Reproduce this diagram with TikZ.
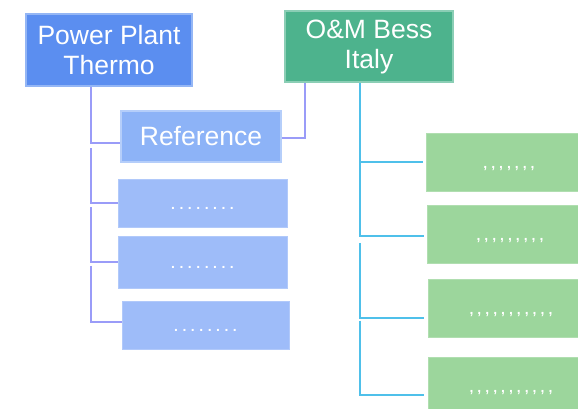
\documentclass[tikz,border=0pt]{standalone}
\usepackage{fontspec}
\setmainfont{Liberation Sans}
\usetikzlibrary{positioning}

\definecolor{thermoblue}{HTML}{5B8EF0}
\definecolor{refblue}{HTML}{8DB3F7}
\definecolor{itemblue}{HTML}{9EBCF9}
\definecolor{bessgreen}{HTML}{4DB38D}
\definecolor{itemgreen}{HTML}{9CD69C}
\definecolor{linkblue}{HTML}{9A9CF8}
\definecolor{linkcyan}{HTML}{4FC0EA}

\newcommand{\dotrow}[1]{\foreach \i in {2,...,#1}{.\hspace{4.5pt}}.}
\newcommand{\commarow}[1]{\foreach \i in {2,...,#1}{,\hspace{4pt}},}

\tikzset{
  headbox/.style={draw=#1!65!white, fill=#1, line width=2.5pt, text=white,
    align=center, inner sep=0pt, font=\fontsize{26.5}{30}\selectfont},
  itembox/.style={draw=#1!80!white, fill=#1, line width=0.8pt, text=white,
    inner sep=0pt, text height=12pt, text depth=0pt, font=\fontsize{14}{16}\selectfont\bfseries},
  bline/.style={draw=linkblue, line width=2pt},
  cline/.style={draw=linkcyan, line width=2pt},
}

\begin{document}
\begin{tikzpicture}[x=1pt, y=-1pt]
\useasboundingbox (0,0) rectangle (578,409);
\clip (0,0) rectangle (578,409);

% top level
\node (thermo) [headbox=thermoblue, minimum width=166pt, minimum height=72pt] at (109,50) {Power Plant\\Thermo};
\node (bess) [headbox=bessgreen, minimum width=168pt, minimum height=71pt] at (369,46.5) {O\&M Bess\\Italy};
\node (ref) [headbox=refblue, minimum width=160pt, minimum height=51pt] at (201,136.5) {Reference};

% blue items
\node (b1) [itembox=itemblue, minimum width=169pt, minimum height=48pt] at (202.5,203) {\dotrow{8}};
\node (b2) [itembox=itemblue, minimum width=169pt, minimum height=52pt, below=9pt of b1] {\dotrow{8}};
\node (b3) [itembox=itemblue, minimum width=167pt, minimum height=48pt, below=12pt of b2, xshift=3pt] {\dotrow{8}};

% green items
\node (g1) [itembox=itemgreen, minimum width=166pt, minimum height=58pt] at (509,162) {\commarow{7}};
\node (g2) [itembox=itemgreen, minimum width=166pt, minimum height=58pt, below=14pt of g1, xshift=1pt] {\commarow{9}};
\node (g3) [itembox=itemgreen, minimum width=166pt, minimum height=58pt, below=15pt of g2, xshift=1pt] {\commarow{11}};
\node (g4) [itembox=itemgreen, minimum width=166pt, minimum height=58pt, below=19pt of g3] {\commarow{11}};

% left connectors
\coordinate (lx) at (91,0);
\draw[bline] (thermo.south -| lx) |- ([yshift=-6.5pt]ref.west);
\draw[bline] ([yshift=-11.5pt]ref.west -| lx) |- (b1.west);
\draw[bline] ([yshift=-4pt]b1.west -| lx) |- ([yshift=1pt]b2.west);
\draw[bline] ([yshift=-3pt]b2.west -| lx) |- ([yshift=4pt]b3.west);

% reference to bess
\draw[bline] ([yshift=-1.5pt]ref.east) -| ([xshift=21pt]bess.south west);

% right connectors
\coordinate (rx) at (360,0);
\draw[cline, shorten >=3pt] (bess.south -| rx) |- (g1.west);
\draw[cline, shorten >=3pt] ([yshift=-1pt]g1.west -| rx) |- ([yshift=-1pt]g2.west);
\draw[cline, shorten >=4pt] ([yshift=-8pt]g2.west -| rx) |- ([yshift=-9pt]g3.west);
\draw[cline, shorten >=4pt] ([yshift=-12pt]g3.west -| rx) |- ([yshift=-9pt]g4.west);
\end{tikzpicture}
\end{document}
